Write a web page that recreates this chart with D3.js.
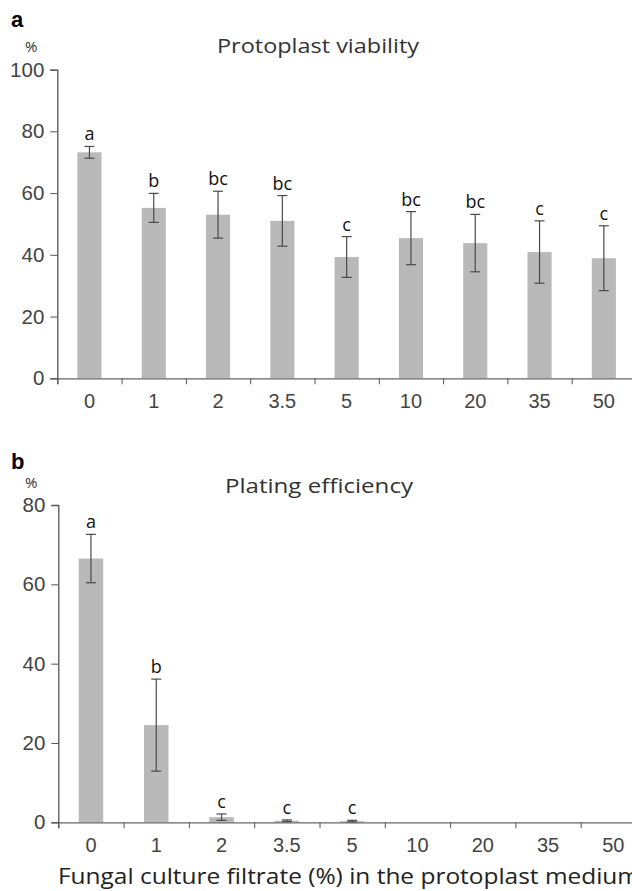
<!DOCTYPE html>
<html>
<head>
<meta charset="utf-8">
<script src="https://cdn.jsdelivr.net/npm/d3@7"></script>
<style>
  body { margin: 0; background: #fff; }
  svg { display: block; font-family: "Open Sans", Lato, sans-serif; }
</style>
</head>
<body>
<svg id="chart" width="632" height="891"></svg>
<script>
// concentrations of the fungal filtrate
var categories = ["0", "1", "2", "3.5", "5", "10", "20", "35", "50"];

// panel a - protoplast viability (%)
var viabilityMean = [73.2, 55.2, 53.0, 51.0, 39.3, 45.4, 43.8, 40.9, 38.9];
var viabilityErr = [1.9, 4.7, 7.6, 8.2, 6.6, 8.6, 9.3, 10.1, 10.5];
var viabilityLetters = ["a", "b", "bc", "bc", "c", "bc", "bc", "c", "c"];
var viabilityTicks = [0, 20, 40, 60, 80, 100];

// panel b - plating efficiency (%)
var platingMean = [66.5, 24.5, 1.3, 0.4, 0.3, 0, 0, 0, 0];
var platingErr = [6.1, 11.6, 0.8, 0.2, 0.2, 0, 0, 0, 0];
var platingLetters = ["a", "b", "c", "c", "c", "", "", "", ""];
var platingTicks = [0, 20, 40, 60, 80];

var svg = d3.select("#chart");

function drawPanel(opt){
    var g = svg.append("g").attr("class", "panel");

    var x = d3.scaleBand()
        .domain(categories)
        .range([opt.left, opt.left + opt.step * categories.length])
        .paddingInner(0.625)
        .paddingOuter(0.3125);

    var y = d3.scaleLinear()
        .domain([0, opt.max])
        .range([opt.bottom, opt.top]);

    var rows = categories.map(function(c, i){
        return {cat: c, mean: opt.mean[i], err: opt.err[i], letter: opt.letters[i]};
    });

    // bars
    g.selectAll("rect.bar")
        .data(rows.filter(function(d){ return d.mean > 0; }))
        .enter()
        .append("rect")
        .attr("class", "bar")
        .attr("x", function(d){ return x(d.cat); })
        .attr("width", x.bandwidth())
        .attr("y", function(d){ return y(d.mean); })
        .attr("height", function(d){ return y(0) - y(d.mean); })
        .attr("fill", "#b9b9b9");

    // y axis
    var yAxis = g.append("g")
        .attr("transform", "translate(" + opt.left + ",0)")
        .call(d3.axisLeft(y).tickValues(opt.ticks).tickSize(7).tickPadding(6));
    yAxis.select(".domain").attr("stroke", "#555").attr("stroke-width", 1.3);
    yAxis.selectAll(".tick line").attr("stroke", "#555");
    yAxis.selectAll("text")
        .attr("fill", "#444")
        .style("font-size", "20.5px");

    // x axis: boundary ticks
    var edge = d3.scaleLinear()
        .domain([0, categories.length])
        .range(x.range());
    var xAxis = g.append("g")
        .attr("transform", "translate(0," + opt.bottom + ")")
        .call(d3.axisBottom(edge).tickValues(d3.range(0, categories.length + 1)).tickSize(6).tickFormat(""));
    xAxis.select(".domain").attr("stroke", "#666").attr("stroke-width", 1.3);
    xAxis.selectAll(".tick line").attr("stroke", "#555");

    // x labels at band centres
    var xLab = g.append("g")
        .attr("transform", "translate(0," + opt.bottom + ")")
        .call(d3.axisBottom(x).tickSize(0));
    xLab.select(".domain").remove();
    xLab.selectAll("text")
        .attr("y", 30)
        .attr("dy", null)
        .attr("fill", "#444")
        .style("font-size", "20px");

    // error bars
    var eb = g.selectAll("g.err")
        .data(rows.filter(function(d){ return d.err > 0; }))
        .enter()
        .append("g")
        .attr("class", "err")
        .attr("stroke", "#4a4a4a")
        .attr("stroke-width", 1.2);
    var cx = function(d){ return x(d.cat) + x.bandwidth() / 2; };
    eb.append("line")
        .attr("x1", cx).attr("x2", cx)
        .attr("y1", function(d){ return y(d.mean + d.err); })
        .attr("y2", function(d){ return y(d.mean - d.err); });
    eb.append("line")
        .attr("x1", function(d){ return cx(d) - 5; })
        .attr("x2", function(d){ return cx(d) + 5; })
        .attr("y1", function(d){ return y(d.mean + d.err); })
        .attr("y2", function(d){ return y(d.mean + d.err); });
    eb.append("line")
        .attr("x1", function(d){ return cx(d) - 5; })
        .attr("x2", function(d){ return cx(d) + 5; })
        .attr("y1", function(d){ return y(d.mean - d.err); })
        .attr("y2", function(d){ return y(d.mean - d.err); });

    // significance letters
    g.selectAll("text.letter")
        .data(rows.filter(function(d){ return d.letter; }))
        .enter()
        .append("text")
        .attr("class", "letter")
        .attr("x", cx)
        .attr("y", function(d){ return y(d.mean + d.err) - 6; })
        .attr("text-anchor", "middle")
        .attr("fill", "#111")
        .style("font-size", "18px")
        .text(function(d){ return d.letter; });

    // title, panel letter, unit
    g.append("text")
        .attr("x", opt.titleX)
        .attr("y", opt.titleY)
        .attr("fill", "#333")
        .style("font-size", "20px")
        .attr("textLength", opt.titleW)
        .attr("lengthAdjust", "spacingAndGlyphs")
        .text(opt.title);
    g.append("text")
        .attr("x", 11)
        .attr("y", opt.letterY)
        .attr("fill", "#000")
        .style("font-family", "Liberation Sans, Arial, sans-serif")
        .style("font-weight", "bold")
        .style("font-size", "22px")
        .text(opt.panel);
    g.append("text")
        .attr("x", 25)
        .attr("y", opt.unitY)
        .attr("fill", "#333")
        .style("font-size", "15px")
        .text("%");
}

drawPanel({
    panel: "a", title: "Protoplast viability",
    mean: viabilityMean, err: viabilityErr, letters: viabilityLetters, ticks: viabilityTicks,
    max: 100, left: 57.3, step: 64.3, top: 69.6, bottom: 378.3,
    titleX: 217, titleW: 202, titleY: 53, letterY: 27, unitY: 52
});

drawPanel({
    panel: "b", title: "Plating efficiency",
    mean: platingMean, err: platingErr, letters: platingLetters, ticks: platingTicks,
    max: 80, left: 58.3, step: 65.3, top: 505, bottom: 822.3,
    titleX: 225, titleW: 188, titleY: 493, letterY: 469, unitY: 488
});

svg.append("text")
    .attr("x", 58)
    .attr("y", 884)
    .attr("fill", "#222")
    .style("font-size", "22px")
    .attr("textLength", 582)
    .attr("lengthAdjust", "spacingAndGlyphs")
    .text("Fungal culture filtrate (%) in the protoplast medium");
</script>
</body>
</html>
